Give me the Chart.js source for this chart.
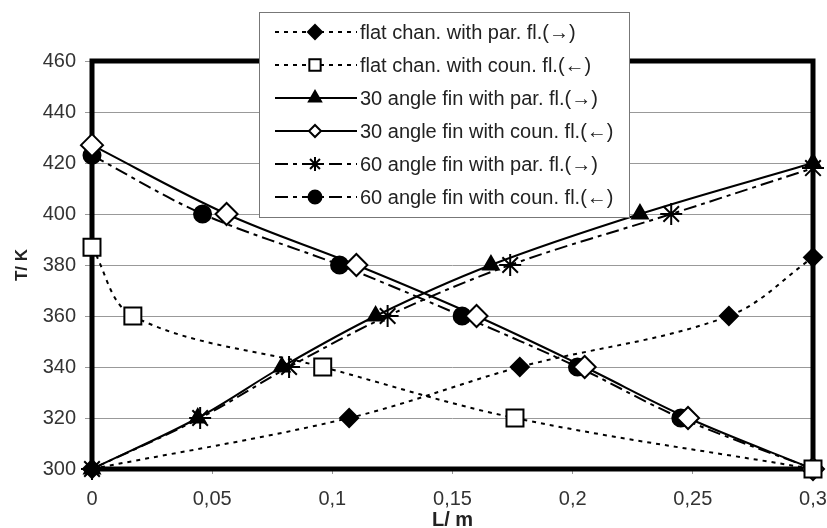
<!DOCTYPE html>
<html>
<head>
<meta charset="utf-8">
<script src="https://cdn.jsdelivr.net/npm/chart.js@4/dist/chart.umd.min.js"></script>
<style>
  body { margin: 0; background: #fff; }
  #wrap { width: 827px; height: 528px; }
</style>
</head>
<body>
<div id="wrap"><canvas id="tempChart" width="827" height="528"></canvas></div>
<script>
// valores (L em m, T em K)
const seriesNames = [
    'flat chan. with par. fl.(\u2192)',
    'flat chan. with coun. fl.(\u2190)',
    '30 angle fin with par. fl.(\u2192)',
    '30 angle fin with coun. fl.(\u2190)',
    '60 angle fin with par. fl.(\u2192)',
    '60 angle fin with coun. fl.(\u2190)'
];
const flatParL = [0, 0.107, 0.178, 0.265, 0.3];
const flatParT = [300, 320, 340, 360, 383];
const flatCounL = [0, 0.017, 0.096, 0.176, 0.3];
const flatCounT = [387, 360, 340, 320, 300];
const fin30ParL = [0, 0.044, 0.079, 0.118, 0.166, 0.228, 0.3];
const fin30ParT = [300, 320, 340, 360, 380, 400, 420];
const fin30CounL = [0, 0.056, 0.11, 0.16, 0.205, 0.248, 0.3];
const fin30CounT = [427, 400, 380, 360, 340, 320, 300];
const fin60ParL = [0, 0.045, 0.082, 0.123, 0.174, 0.241, 0.3];
const fin60ParT = [300, 320, 340, 360, 380, 400, 418];
const fin60CounL = [0, 0.046, 0.103, 0.154, 0.202, 0.245, 0.3];
const fin60CounT = [423, 400, 380, 360, 340, 320, 300];

const xTickLabels = ['0', '0,05', '0,1', '0,15', '0,2', '0,25', '0,3'];
const yTickLabels = ['300', '320', '340', '360', '380', '400', '420', '440', '460'];

function pts(xs, ys) {
    return xs.map((x, i) => ({ x: x, y: ys[i] }));
}

document.addEventListener('DOMContentLoaded', function() {

    const fontFam = "Arial, 'Liberation Sans', sans-serif";
    Chart.defaults.font.family = fontFam;

    const dotted = [4, 5];
    const dashDot = [13, 5, 4, 5];

    // moldura preta grossa da área do gráfico
    const frame = {
        id: 'frame',
        beforeDatasetsDraw(chart) {
            const { ctx, chartArea: a } = chart;
            ctx.save();
            ctx.lineWidth = 5;
            ctx.strokeStyle = '#000';
            ctx.strokeRect(a.left, a.top, a.right - a.left, a.bottom - a.top);
            ctx.restore();
        }
    };

    // legenda em caixa por cima do gráfico
    const boxLegend = {
        id: 'boxLegend',
        afterDraw(chart) {
            const ctx = chart.ctx;
            const x0 = 259, y0 = 12, w = 370, h = 205;
            ctx.save();
            ctx.fillStyle = '#fff';
            ctx.fillRect(x0, y0, w, h);
            ctx.strokeStyle = '#777';
            ctx.lineWidth = 1;
            ctx.strokeRect(x0 + 0.5, y0 + 0.5, w, h);
            chart.data.datasets.forEach((ds, i) => {
                const y = 32 + i * 33;
                ctx.strokeStyle = '#000';
                ctx.lineWidth = 2;
                ctx.setLineDash(ds.borderDash || []);
                ctx.beginPath();
                ctx.moveTo(275, y);
                ctx.lineTo(357, y);
                ctx.stroke();
                ctx.setLineDash([]);
                ctx.fillStyle = ds.pointBackgroundColor;
                ctx.lineWidth = ds.pointBorderWidth;
                Chart.helpers.drawPoint(ctx, {
                    pointStyle: ds.pointStyle,
                    radius: ds.legendRadius,
                    rotation: 0,
                    borderWidth: ds.pointBorderWidth
                }, 315, y);
                ctx.fillStyle = '#222';
                ctx.font = '20px ' + fontFam;
                ctx.textBaseline = 'middle';
                ctx.fillText(ds.label, 360, y + 1);
            });
            ctx.restore();
        }
    };

    function serie(i, data, dash, style, fill, radius, legendRadius) {
        return {
            label: seriesNames[i],
            data: data,
            borderColor: '#000',
            borderWidth: 2,
            borderDash: dash,
            tension: 0.35,
            pointStyle: style,
            pointRadius: radius,
            pointBackgroundColor: fill,
            pointBorderColor: '#000',
            pointBorderWidth: 2,
            legendRadius: legendRadius,
            clip: false
        };
    }

    const ctx = document.getElementById('tempChart');
    new Chart(ctx, {
        type: 'line',
        data: {
            datasets: [
                serie(0, pts(flatParL, flatParT), dotted, 'rectRot', '#000', 9, 7),
                serie(1, pts(flatCounL, flatCounT), dotted, 'rect', '#fff', 12, 8),
                serie(2, pts(fin30ParL, fin30ParT), [], 'triangle', '#000', 9, 7),
                serie(3, pts(fin30CounL, fin30CounT), [], 'rectRot', '#fff', 11, 6),
                serie(4, pts(fin60ParL, fin60ParT), dashDot, 'star', '#000', 11, 7),
                serie(5, pts(fin60CounL, fin60CounT), dashDot, 'circle', '#000', 8.5, 6.5)
            ]
        },
        options: {
            responsive: false,
            animation: false,
            layout: { padding: { left: 0, right: 10, top: 61, bottom: 0 } },
            plugins: {
                legend: { display: false },
                tooltip: { enabled: false }
            },
            scales: {
                x: {
                    type: 'linear',
                    min: 0,
                    max: 0.3,
                    ticks: {
                        stepSize: 0.05,
                        color: '#333',
                        font: { size: 20 },
                        padding: 13,
                        maxRotation: 0,
                        callback: (v, i) => xTickLabels[i]
                    },
                    grid: { drawOnChartArea: false, tickLength: 5, color: '#999' },
                    border: { display: false },
                    title: {
                        display: true,
                        text: 'L/ m',
                        color: '#222',
                        font: { size: 20, weight: 'bold', lineHeight: 0.8 },
                        padding: { top: 0, bottom: 0 }
                    },
                    // o rótulo 0,3 fica cortado na borda, como no original
                    afterFit: s => { s.height = 59; s.paddingLeft = 0; s.paddingRight = 0; }
                },
                y: {
                    min: 300,
                    max: 460,
                    ticks: {
                        stepSize: 20,
                        color: '#333',
                        font: { size: 20 },
                        padding: 9,
                        callback: (v, i) => yTickLabels[i]
                    },
                    grid: { color: '#999', lineWidth: 1, tickLength: 7 },
                    border: { display: false },
                    title: {
                        display: true,
                        text: 'T/ K',
                        color: '#222',
                        font: { size: 17, weight: 'bold' },
                        padding: { top: 12, bottom: 0 }
                    },
                    afterFit: s => { s.width = 92; }
                }
            }
        },
        plugins: [frame, boxLegend]
    });
});
</script>
</body>
</html>
